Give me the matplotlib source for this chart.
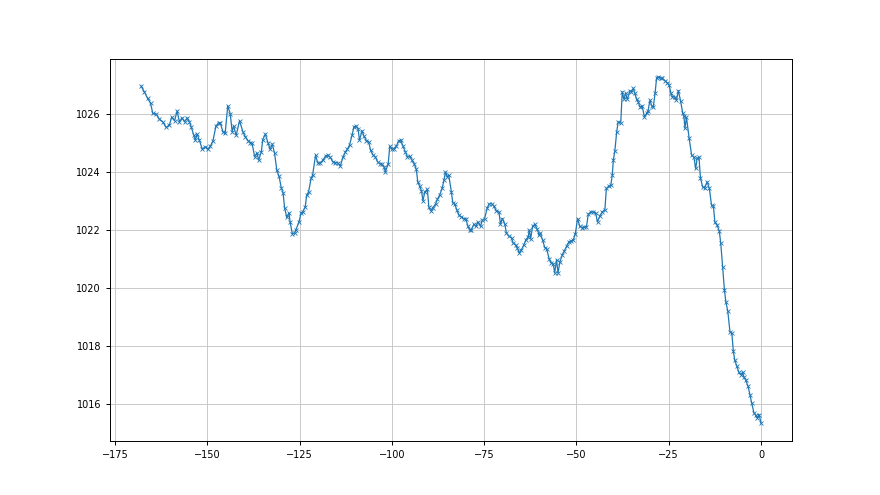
import matplotlib
matplotlib.use("Agg")
import matplotlib.pyplot as plt

# hours before now
horas = [
    -168.0, -167.1, -166.2, -165.4, -164.8, -163.9, -163.0, -162.1, -161.2, -160.3,
    -159.7, -158.9, -158.2, -157.6, -156.9, -156.2, -155.5, -154.9, -154.4, -153.7,
    -153.3, -152.8, -152.2, -151.4, -150.6, -149.9, -149.2, -148.5, -147.7, -147.0,
    -146.5, -145.8, -145.2, -144.5, -143.8, -143.3, -142.9, -142.2, -141.3,
    -140.4, -139.7, -139.0, -138.4, -137.9, -137.2, -136.6, -136.1, -135.4, -135.0,
    -134.3, -133.6, -133.0, -132.4, -131.8, -131.2, -130.6, -130.0, -129.5, -129.1,
    -128.5, -127.9, -127.6, -127.0, -126.4, -126.0, -125.2, -124.6, -124.2, -123.5,
    -123.1, -122.6, -121.9, -121.5, -120.7, -120.1, -119.4, -118.7, -118.0, -117.4,
    -116.7, -116.0, -115.3, -114.7, -114.0, -113.3, -112.6,
    -112.1, -111.5, -110.8, -110.3, -109.7, -109.2, -108.8, -108.1, -107.6, -106.9,
    -106.3, -105.8, -105.1, -104.5, -103.9, -103.3, -102.7, -102.1, -101.8, -101.0,
    -100.6, -100.0, -99.5, -98.8, -98.2, -97.6, -97.0, -96.4, -95.8, -95.2,
    -94.6, -94.0, -93.4, -93.0, -92.5, -92.0, -91.6, -91.1, -90.4, -90.0,
    -89.5, -88.9, -88.2, -87.7, -87.1, -86.4, -85.9, -85.5, -85.0, -84.6,
    -83.9, -83.5, -83.0, -82.4, -81.8, -81.2, -80.6, -80.0, -79.4, -78.9,
    -78.5, -77.8, -77.3, -76.7, -76.0, -75.5, -74.9, -74.2, -73.7, -73.0,
    -72.4, -71.7, -71.0, -70.6, -70.1, -69.4, -69.0, -68.3, -67.6, -67.2,
    -66.4, -66.1, -65.5, -64.9, -64.3, -63.7, -63.1, -62.8, -62.4, -61.9,
    -61.3, -60.7, -60.1, -59.8, -59.2, -58.6, -58.1, -57.4, -56.8, -56.3,
    -55.9, -55.4, -55.0,
    -54.5, -53.9, -53.3, -52.7, -52.1, -51.5, -50.9, -50.3, -49.7, -49.1,
    -48.5, -47.9, -47.3, -46.8, -46.1, -45.5, -44.8, -44.3, -43.7, -43.0,
    -42.3, -41.9, -41.2, -40.7, -40.3, -40.0, -39.6, -39.1, -38.7, -38.0,
    -37.6, -37.1, -36.7, -36.2, -35.5, -35.1, -34.6, -34.2, -33.7, -33.3,
    -32.8, -32.2, -31.6, -31.0, -30.6, -30.1, -29.6, -29.2, -28.7, -28.3,
    -27.9, -27.1,
    -26.7, -26.0, -25.4, -24.9, -24.4, -24.0, -23.3, -22.9, -22.4, -21.8,
    -21.2, -20.9, -20.6, -20.2, -19.5, -18.8, -18.2, -17.7, -17.3, -16.8,
    -16.4, -15.8, -15.2, -14.6, -14.0, -13.4, -12.9, -12.5, -11.9, -11.3,
    -10.9, -10.4, -9.9, -9.5, -9.0, -8.4, -7.9, -7.5, -7.1, -6.6,
    -6.0, -5.5, -5.0, -4.6, -4.1, -3.5, -3.0, -2.5, -1.9, -1.4,
    -1.0, -0.5, 0.0,
]

# pressure (hPa)
presion = [
    1026.97, 1026.77, 1026.54, 1026.37, 1026.02, 1026.00, 1025.82, 1025.73, 1025.54, 1025.62,
    1025.89, 1025.77, 1026.11, 1025.73, 1025.87, 1025.73, 1025.87, 1025.73, 1025.56, 1025.27,
    1025.10, 1025.31, 1025.10, 1024.79, 1024.87, 1024.79, 1024.89, 1025.08, 1025.58, 1025.70,
    1025.68, 1025.39, 1025.33, 1026.28, 1026.00, 1025.39, 1025.58, 1025.27, 1025.77,
    1025.39, 1025.21, 1025.08, 1025.01, 1024.99, 1024.52, 1024.66, 1024.41, 1024.70, 1025.12,
    1025.31, 1025.01, 1024.78, 1024.96, 1024.64, 1024.06, 1023.85, 1023.46, 1023.28, 1022.77,
    1022.43, 1022.59, 1022.27, 1021.87, 1021.89, 1022.01, 1022.27, 1022.59, 1022.62, 1022.79,
    1023.20, 1023.31, 1023.78, 1023.89, 1024.58, 1024.31, 1024.31, 1024.41, 1024.55, 1024.58,
    1024.50, 1024.35, 1024.32, 1024.32, 1024.20, 1024.50, 1024.70,
    1024.78, 1024.93, 1025.27, 1025.56, 1025.58, 1025.50, 1025.10, 1025.42, 1025.24, 1025.08,
    1025.04, 1024.75, 1024.58, 1024.52, 1024.35, 1024.29, 1024.27, 1024.16, 1024.00, 1024.29,
    1024.89, 1024.78, 1024.81, 1024.89, 1025.08, 1025.10, 1024.89, 1024.70, 1024.52, 1024.55,
    1024.41, 1024.29, 1024.09, 1023.66, 1023.51, 1023.35, 1023.00, 1023.31, 1023.40, 1022.79,
    1022.66, 1022.77, 1022.89, 1023.05, 1023.20, 1023.43, 1023.72, 1024.00, 1023.83, 1023.89,
    1023.31, 1022.93, 1022.89, 1022.68, 1022.50, 1022.45, 1022.39, 1022.39, 1022.12, 1021.99,
    1022.01, 1022.19, 1022.12, 1022.27, 1022.12, 1022.33, 1022.39, 1022.74, 1022.89, 1022.91,
    1022.82, 1022.66, 1022.62, 1022.19, 1022.39, 1022.19, 1021.89, 1021.78, 1021.73, 1021.55,
    1021.47, 1021.39, 1021.20, 1021.32, 1021.47, 1021.66, 1021.75, 1021.99, 1021.70, 1022.12,
    1022.19, 1022.04, 1021.81, 1021.89, 1021.66, 1021.39, 1021.35, 1021.00, 1020.85, 1020.83,
    1020.51, 1020.97, 1020.51,
    1020.89, 1021.12, 1021.27, 1021.43, 1021.58, 1021.62, 1021.64, 1021.87, 1022.39, 1022.12,
    1022.08, 1022.10, 1022.10, 1022.54, 1022.62, 1022.62, 1022.58, 1022.27, 1022.47, 1022.62,
    1022.70, 1023.43, 1023.51, 1023.54, 1023.89, 1024.43, 1024.73, 1025.39, 1025.73, 1025.70,
    1026.77, 1026.51, 1026.72, 1026.51, 1026.81, 1026.77, 1026.89, 1026.72, 1026.51, 1026.43,
    1026.25, 1026.28, 1025.91, 1026.02, 1026.11, 1026.48, 1026.28, 1026.23, 1026.72, 1027.24,
    1027.29, 1027.24,
    1027.23, 1027.15, 1027.08, 1027.00, 1026.72, 1026.60, 1026.58, 1026.48, 1026.81, 1026.46,
    1026.02, 1025.93, 1025.51, 1025.89, 1025.19, 1024.58, 1024.52, 1024.12, 1024.47, 1024.50,
    1023.78, 1023.48, 1023.46, 1023.66, 1023.43, 1022.85, 1022.82, 1022.27, 1022.16, 1021.96,
    1021.53, 1020.72, 1019.91, 1019.50, 1019.19, 1018.47, 1018.43, 1017.81, 1017.49, 1017.31,
    1017.08, 1017.00, 1017.08, 1016.91, 1016.80, 1016.59, 1016.31, 1016.01, 1015.67, 1015.59,
    1015.51, 1015.62, 1015.32,
]

plt.rcParams['font.size'] = 7
plt.rcParams['axes.linewidth'] = 0.7
plt.rcParams['xtick.major.width'] = 0.7
plt.rcParams['ytick.major.width'] = 0.7
plt.rcParams['xtick.major.size'] = 3
plt.rcParams['ytick.major.size'] = 3

fig, ax = plt.subplots(figsize=(8.8, 4.95), dpi=100)
ax.plot(horas, presion, "x-", color="tab:blue", linewidth=0.9,
        markersize=3.5, markeredgewidth=0.6)
# malla
ax.grid(color="#c0c0c0", linewidth=0.6)

fig.savefig("out.png", dpi=100)
